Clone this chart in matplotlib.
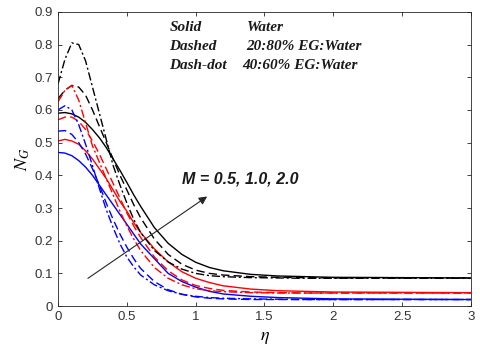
import matplotlib
matplotlib.use('Agg')
import matplotlib.pyplot as plt

plt.rcParams['mathtext.fontset'] = 'stix'

# entropy generation number N_G vs eta
eta = [0, 0.05, 0.1, 0.15, 0.2, 0.25, 0.3, 0.35, 0.4, 0.45, 0.5, 0.55, 0.6,
       0.7, 0.8, 0.9, 1.0, 1.1, 1.2, 1.4, 1.6, 1.8, 2.0, 2.5, 3.0]

# solid: Water
water_m05 = [0.47, 0.468, 0.46, 0.445, 0.425, 0.4, 0.37, 0.34, 0.31, 0.28, 0.25, 0.22, 0.19,
             0.145, 0.1, 0.075, 0.058, 0.045, 0.037, 0.03, 0.026, 0.024, 0.022, 0.021, 0.02]
water_m10 = [0.505, 0.51, 0.505, 0.495, 0.475, 0.45, 0.42, 0.39, 0.355, 0.32, 0.29, 0.255, 0.225,
             0.175, 0.135, 0.105, 0.085, 0.072, 0.062, 0.052, 0.047, 0.045, 0.043, 0.042, 0.041]
water_m20 = [0.59, 0.592, 0.588, 0.578, 0.562, 0.54, 0.515, 0.485, 0.45, 0.415, 0.378, 0.34, 0.305,
             0.24, 0.192, 0.158, 0.134, 0.118, 0.108, 0.097, 0.092, 0.09, 0.088, 0.087, 0.086]

# dashed: 20:80% EG:Water
eg20_m05 = [0.535, 0.537, 0.525, 0.5, 0.465, 0.42, 0.37, 0.315, 0.265, 0.22, 0.18, 0.145, 0.115,
            0.075, 0.05, 0.036, 0.028, 0.024, 0.022, 0.02, 0.02, 0.02, 0.02, 0.02, 0.02]
eg20_m10 = [0.57, 0.578, 0.578, 0.565, 0.54, 0.505, 0.465, 0.42, 0.375, 0.33, 0.285, 0.245, 0.21,
            0.15, 0.108, 0.08, 0.063, 0.054, 0.048, 0.043, 0.041, 0.04, 0.04, 0.04, 0.04]
eg20_m20 = [0.635, 0.66, 0.675, 0.67, 0.645, 0.6, 0.55, 0.5, 0.45, 0.4, 0.355, 0.31, 0.27,
            0.205, 0.158, 0.128, 0.11, 0.1, 0.095, 0.09, 0.088, 0.087, 0.086, 0.086, 0.086]

# dash-dot: 40:60% EG:Water
eg40_m05 = [0.6, 0.613, 0.6, 0.555, 0.495, 0.43, 0.36, 0.295, 0.24, 0.19, 0.15, 0.12, 0.095,
            0.065, 0.047, 0.036, 0.03, 0.026, 0.024, 0.022, 0.021, 0.02, 0.02, 0.02, 0.02]
eg40_m10 = [0.625, 0.66, 0.675, 0.63, 0.56, 0.49, 0.44, 0.39, 0.34, 0.29, 0.245, 0.205, 0.17,
            0.118, 0.085, 0.065, 0.053, 0.047, 0.044, 0.041, 0.04, 0.04, 0.04, 0.04, 0.04]
eg40_m20 = [0.68, 0.755, 0.805, 0.8, 0.75, 0.67, 0.59, 0.51, 0.43, 0.37, 0.315, 0.265, 0.225,
            0.17, 0.135, 0.113, 0.1, 0.093, 0.09, 0.087, 0.086, 0.085, 0.085, 0.085, 0.085]

fig = plt.figure(figsize=(4.8, 3.49), dpi=100)
ax = fig.add_axes([0.121, 0.123, 0.860, 0.843])

dash = (0, (6, 3))
dashdot = (0, (6, 2, 1.5, 2))
ax.plot(eta, water_m05, color='b', lw=1, ls='-')
ax.plot(eta, water_m10, color='r', lw=1, ls='-')
ax.plot(eta, water_m20, color='k', lw=1, ls='-')
ax.plot(eta, eg20_m05, color='b', lw=1, ls=dash)
ax.plot(eta, eg20_m10, color='r', lw=1, ls=dash)
ax.plot(eta, eg20_m20, color='k', lw=1, ls=dash)
ax.plot(eta, eg40_m05, color='b', lw=1, ls=dashdot)
ax.plot(eta, eg40_m10, color='r', lw=1, ls=dashdot)
ax.plot(eta, eg40_m20, color='k', lw=1, ls=dashdot)

ax.set_xlim(0, 3)
ax.set_ylim(0, 0.9)
ax.set_xticks([0, 0.5, 1, 1.5, 2, 2.5, 3])
ax.set_xticklabels(['0', '0.5', '1', '1.5', '2', '2.5', '3'])
ax.set_yticks([0, 0.1, 0.2, 0.3, 0.4, 0.5, 0.6, 0.7, 0.8, 0.9])
ax.set_yticklabels(['0', '0.1', '0.2', '0.3', '0.4', '0.5', '0.6', '0.7', '0.8', '0.9'])
ax.tick_params(direction='in', top=True, right=True, length=3, width=0.6,
               labelsize=9.5, labelcolor='#333333', colors='#262626')
for lab in ax.get_xticklabels() + ax.get_yticklabels():
    lab.set_family('Liberation Sans')
for sp in ax.spines.values():
    sp.set_linewidth(0.6)
    sp.set_color('#262626')

ax.set_xlabel(r'$\eta$', fontsize=13, labelpad=4)
ax.set_ylabel(r'$N_G$', fontsize=13, labelpad=2)

# legend text for the line styles
tf = dict(family='Liberation Serif', fontweight='bold', style='italic', fontsize=11, color='#1a1a1a')
ax.text(0.81, 0.84, 'Solid', **tf)
ax.text(1.37, 0.84, 'Water', **tf)
ax.text(0.81, 0.782, 'Dashed', **tf)
ax.text(1.37, 0.782, '20:80% EG:Water', **tf)
ax.text(0.81, 0.724, 'Dash-dot', **tf)
ax.text(1.34, 0.724, '40:60% EG:Water', **tf)

ax.annotate('', xy=(1.1, 0.34), xytext=(0.2, 0.08),
            arrowprops=dict(arrowstyle='-|>', color='#262626', lw=0.8, mutation_scale=12))
ax.text(0.9, 0.375, 'M = 0.5, 1.0, 2.0', family='Liberation Sans', fontweight='bold',
        style='italic', fontsize=11.5, color='#1a1a1a')

plt.savefig('out.png', dpi=100)
